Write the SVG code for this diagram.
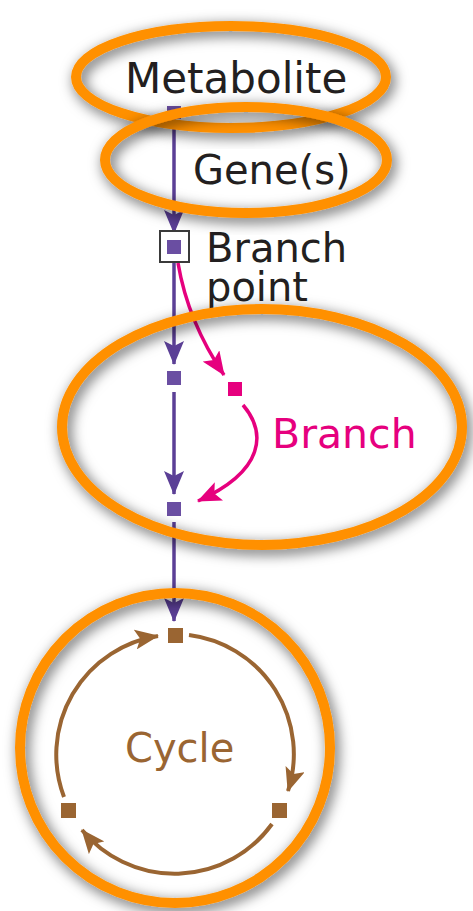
<svg xmlns="http://www.w3.org/2000/svg" width="473" height="911" viewBox="0 0 473 911">
  <style>
    .lbl { font-family: "DejaVu Sans", "Liberation Sans", sans-serif; font-size: 40px; }
    .dark { fill: #231f20; }
    .main { fill: none; stroke: #5b3f96; stroke-width: 3.5; }
    .br { fill: none; stroke: #e6007e; stroke-width: 3.5; }
    .cyc { fill: none; stroke: #9a6532; stroke-width: 4; }
    .sqP { fill: #6a4ea2; }
    .sqB { fill: #e6007e; }
    .sqC { fill: #9a6532; }
    .ring { fill: none; stroke: #ff9000; stroke-width: 10; filter: url(#shade); }
  </style>
  <defs>
    <marker id="ahP" viewBox="0 0 24 20" refX="23" refY="10" markerWidth="24" markerHeight="20" orient="auto" markerUnits="userSpaceOnUse">
      <path d="M0,0 L24,10 L0,20 L5,10 z" fill="#5b3f96"/>
    </marker>
    <marker id="ahB" viewBox="0 0 24 20" refX="23" refY="10" markerWidth="24" markerHeight="20" orient="auto" markerUnits="userSpaceOnUse">
      <path d="M0,0 L24,10 L0,20 L5,10 z" fill="#e6007e"/>
    </marker>
    <marker id="ahC" viewBox="0 0 24 20" refX="23" refY="10" markerWidth="24" markerHeight="20" orient="auto" markerUnits="userSpaceOnUse">
      <path d="M0,0 L24,10 L0,20 L5,10 z" fill="#9a6532"/>
    </marker>
    <filter id="shade" x="-20%" y="-20%" width="140%" height="140%">
      <feGaussianBlur in="SourceAlpha" stdDeviation="7" result="b"/>
      <feOffset in="b" dx="3" dy="4" result="o"/>
      <feFlood flood-color="#000" flood-opacity="0.65"/>
      <feComposite in2="o" operator="in" result="s"/>
      <feMerge>
        <feMergeNode in="s"/>
        <feMergeNode in="SourceGraphic"/>
      </feMerge>
    </filter>
  </defs>

  <rect width="473" height="911" fill="#fff"/>

  <!-- pathway connectors -->
  <g id="connectors">
    <line class="main" x1="174" y1="118" x2="174" y2="233" marker-end="url(#ahP)"/>
    <line class="main" x1="174" y1="263" x2="174" y2="364" marker-end="url(#ahP)"/>
    <line class="main" x1="174" y1="392" x2="174" y2="494" marker-end="url(#ahP)"/>
    <line class="main" x1="174" y1="522" x2="174" y2="621" marker-end="url(#ahP)"/>
    <path class="br" d="M178,263 Q188,322 224,375" marker-end="url(#ahB)"/>
    <path class="br" d="M243,405 C266,432 266,470 198,501" marker-end="url(#ahB)"/>
    <!-- cycle arcs, centre (174,754) r 120 -->
    <path class="cyc" d="M189,635 A120,120 0 0 1 288,791" marker-end="url(#ahC)"/>
    <path class="cyc" d="M272,824 A120,120 0 0 1 82,830" marker-end="url(#ahC)"/>
    <path class="cyc" d="M64,797 A120,120 0 0 1 158,636" marker-end="url(#ahC)"/>
  </g>

  <g id="metabolite">
    <rect class="sqP" x="167" y="106" width="14" height="13"/>
    <text class="lbl dark" x="125" y="93" style="font-size:42px">Metabolite</text>
  </g>
  <g id="genes">
    <text class="lbl dark" x="193" y="184">Gene(s)</text>
  </g>
  <g id="branch-point">
    <rect x="160" y="231" width="29" height="31" fill="#fff" stroke="#3a3a3a" stroke-width="2"/>
    <rect class="sqP" x="167" y="240" width="14" height="14"/>
    <text class="lbl dark" x="206" y="262">Branch</text>
    <text class="lbl dark" x="206" y="301">point</text>
  </g>
  <g id="step-1"><rect class="sqP" x="167" y="371" width="14" height="14"/></g>
  <g id="step-2"><rect class="sqP" x="167" y="502" width="14" height="14"/></g>
  <g id="branch">
    <rect class="sqB" x="228" y="382" width="14" height="14"/>
    <text class="lbl" x="272" y="448" fill="#e6007e" style="font-size:41px">Branch</text>
  </g>
  <g id="cycle">
    <rect class="sqC" x="168" y="628" width="15" height="15"/>
    <rect class="sqC" x="272" y="803" width="15" height="15"/>
    <rect class="sqC" x="61" y="803" width="15" height="15"/>
    <text class="lbl" x="125" y="762" fill="#9a6532">Cycle</text>
  </g>

  <!-- orange highlight rings -->
  <g id="highlights">
    <ellipse class="ring" cx="231" cy="77" rx="155" ry="51"/>
    <ellipse class="ring" cx="246" cy="160" rx="141" ry="53"/>
    <ellipse class="ring" cx="262" cy="427" rx="200" ry="118"/>
    <ellipse class="ring" cx="175" cy="748" rx="155" ry="155"/>
  </g>
</svg>
